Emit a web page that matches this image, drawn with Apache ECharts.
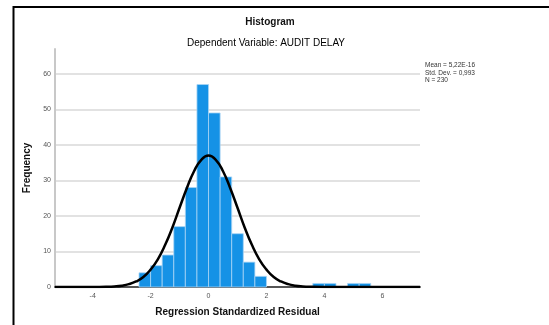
<!DOCTYPE html>
<html>
<head>
    <meta charset="UTF-8">
    <title>Histogram</title>
    <style type="text/css">
        *{
            margin: 0;padding: 0;
        }
        body{
            background: #fff;
        }
        #main{
            width: 549px;
            height: 325px;
        }
    </style>
    <script src="https://cdn.jsdelivr.net/npm/echarts@6/dist/echarts.min.js" type="text/javascript" charset="utf-8"></script>
</head>
<body>
<div id="main"></div>
<script type="text/javascript">
    // 直方图数据 (每组宽 0.4)
    var binStart = [-2.4, -2.0, -1.6, -1.2, -0.8, -0.4, 0, 0.4, 0.8, 1.2, 1.6, 3.6, 4.0, 4.8, 5.2];
    var binWidth = 0.4;
    var counts = [4, 6, 9, 17, 28, 57, 49, 31, 15, 7, 3, 1, 1, 1, 1];

    // 正态曲线
    var curveX = [-5.3, -4, -3.5, -3.25, -3, -2.75, -2.5, -2.25, -2, -1.75, -1.5, -1.25, -1, -0.75, -0.5, -0.25,
        0, 0.25, 0.5, 0.75, 1, 1.25, 1.5, 1.75, 2, 2.25, 2.5, 2.75, 3, 3.25, 3.5, 4, 7.3];
    var curveY = [0, 0.01, 0.07, 0.17, 0.38, 0.8, 1.55, 2.8, 4.9, 7.8, 11.8, 16.7, 22.3, 27.8, 32.6, 35.8,
        37.0, 35.8, 32.6, 27.8, 22.3, 16.7, 11.8, 7.8, 4.9, 2.8, 1.55, 0.8, 0.38, 0.17, 0.07, 0.01, 0];

    var xTicks = [-4, -2, 0, 2, 4, 6];
    var yTicks = [0, 10, 20, 30, 40, 50, 60];
    var statsLines = ['Mean = 5,22E-16', 'Std. Dev. = 0,993', 'N = 230'];

    var barData = [];
    for (var i = 0; i < binStart.length; i++) {
        barData.push([binStart[i], binStart[i] + binWidth, counts[i]]);
    }
    var lineData = [];
    for (var j = 0; j < curveX.length; j++) {
        lineData.push([curveX[j], curveY[j]]);
    }

    var font = "'Liberation Sans', Arial, sans-serif";
    var myChart = echarts.init(document.getElementById('main'));

    var option = {
        backgroundColor: '#fff',
        animation: false,
        grid: {
            left: 55,
            right: 129,
            top: 49,
            bottom: 38
        },
        graphic: [
            // 外框
            {type: 'line', shape: {x1: 13.5, y1: 6, x2: 13.5, y2: 325}, style: {stroke: '#000', lineWidth: 2}},
            {type: 'line', shape: {x1: 13, y1: 7, x2: 549, y2: 7}, style: {stroke: '#000', lineWidth: 2}},
            {type: 'text', x: 270, y: 22, style: {text: 'Histogram', font: 'bold 10px ' + font, fill: '#111', align: 'center', verticalAlign: 'middle'}},
            {type: 'text', x: 266, y: 43, style: {text: 'Dependent Variable: AUDIT DELAY', font: '10px ' + font, fill: '#000', align: 'center', verticalAlign: 'middle'}},
            {type: 'text', x: 425, y: 62, style: {text: statsLines.join('\n'), font: '6.5px ' + font, fill: '#333', lineHeight: 7.2, align: 'left', verticalAlign: 'top'}}
        ],
        xAxis: {
            type: 'value',
            min: -5.3,
            max: 7.3,
            interval: 0.1,
            name: 'Regression Standardized Residual',
            nameLocation: 'middle',
            nameGap: 20,
            nameTextStyle: {fontFamily: font, fontSize: 10, fontWeight: 'bold', color: '#111'},
            axisLine: {onZero: false, lineStyle: {color: '#555', width: 2}},
            axisTick: {show: false},
            splitLine: {show: false},
            axisLabel: {
                fontFamily: font,
                fontSize: 7,
                color: '#555',
                margin: 6,
                showMinLabel: false,
                showMaxLabel: false,
                formatter: function (v) {
                    for (var k = 0; k < xTicks.length; k++) {
                        if (Math.abs(v - xTicks[k]) < 1e-6) return String(xTicks[k]);
                    }
                    return '';
                }
            }
        },
        yAxis: {
            type: 'value',
            min: 0,
            max: 67,
            interval: 10,
            name: 'Frequency',
            nameLocation: 'middle',
            nameGap: 21,
            nameTextStyle: {fontFamily: font, fontSize: 10, fontWeight: 'bold', color: '#111'},
            axisLine: {show: true, onZero: false, lineStyle: {color: '#c8c8c8', width: 2}},
            axisTick: {show: false},
            splitLine: {show: true, showMaxLine: false, lineStyle: {color: '#d9d9d9', width: 1.5}},
            axisLabel: {
                fontFamily: font,
                fontSize: 7,
                color: '#555',
                margin: 4,
                showMaxLabel: false,
                formatter: function (v) {
                    return yTicks.indexOf(v) >= 0 ? String(v) : '';
                }
            }
        },
        series: [
            {
                type: 'custom',
                z: 3,
                data: barData,
                encode: {x: [0, 1], y: 2},
                renderItem: function (params, api) {
                    var p0 = api.coord([api.value(0), 0]);
                    var p1 = api.coord([api.value(1), api.value(2)]);
                    return {
                        type: 'rect',
                        shape: {x: p0[0], y: p1[1], width: p1[0] - p0[0], height: p0[1] - p1[1]},
                        style: {fill: '#1592e6', stroke: '#a9d4f5', lineWidth: 0.8}
                    };
                }
            },
            {
                type: 'line',
                z: 4,
                data: lineData,
                smooth: true,
                symbol: 'none',
                lineStyle: {color: '#000', width: 2.5}
            }
        ]
    };
    myChart.setOption(option);
</script>
</body>
</html>
